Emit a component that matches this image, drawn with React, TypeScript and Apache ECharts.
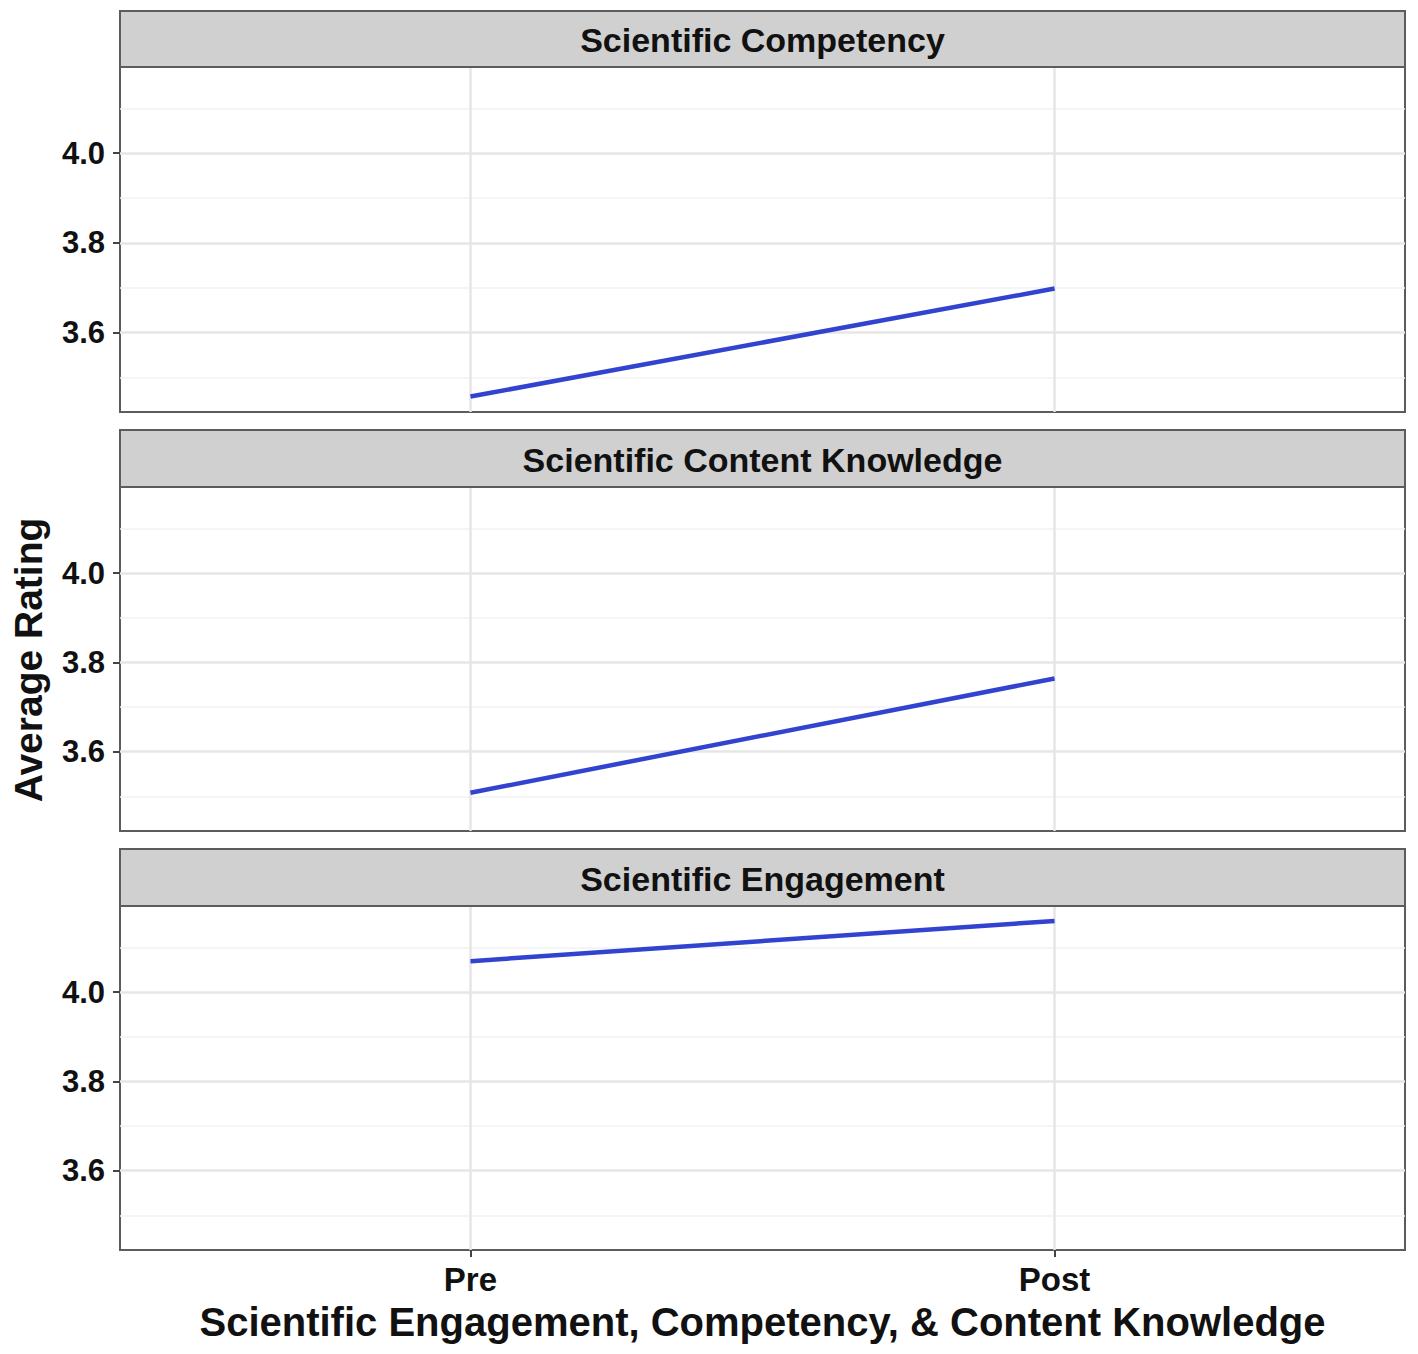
import React, { useEffect, useRef } from "react";
import * as echarts from "echarts";

const panels = ["Scientific Competency", "Scientific Content Knowledge", "Scientific Engagement"];
const timepoints = ["Pre", "Post"];
const competency = [3.457, 3.698];
const contentKnowledge = [3.508, 3.764];
const engagement = [4.069, 4.159];
const seriesValues = [competency, contentKnowledge, engagement];
const yTicks = [3.6, 3.8, 4.0];
const yMinorTicks = [3.5, 3.7, 3.9, 4.1];
const xPositions = [1, 2];
const xTitle = "Scientific Engagement, Competency, & Content Knowledge";
const yTitle = "Average Rating";

const Y_MIN = 3.4225;
const Y_MAX = 4.1925;
const FONT = "'Liberation Sans', Arial, sans-serif";

export default function App() {
  const ref = useRef<HTMLDivElement>(null);
  useEffect(() => {
    document.body.style.margin = "0";
    const chart = echarts.init(ref.current!, null, { renderer: "svg" });
    const left = 120;
    const width = 1285;
    const plotTops = [67, 487, 906];
    const plotH = [345, 344, 344];
    const stripTops = [11, 430, 849];
    const grids = plotTops.map((t, i) => ({
      left,
      top: t,
      width,
      height: plotH[i],
      show: true,
      borderColor: "#5c5c5c",
      borderWidth: 2,
      backgroundColor: "#ffffff",
      containLabel: false,
    }));
    const xAxes = panels.map((_, i) => ({
      type: "value",
      gridIndex: i,
      min: 0.4,
      max: 2.6,
      splitLine: { show: false },
      axisLine: { show: false },
      axisTick: {
        show: i === 2,
        customValues: xPositions,
        length: 7,
        lineStyle: { color: "#444", width: 2 },
      },
      axisLabel: {
        show: i === 2,
        customValues: xPositions,
        formatter: (v: number) => timepoints[Math.round(v) - 1] ?? "",
        fontFamily: FONT,
        fontWeight: "bold",
        fontSize: 33,
        color: "#111",
        margin: 13,
      },
    }));
    const yAxes = panels.map((_, i) => ({
      type: "value",
      gridIndex: i,
      min: Y_MIN,
      max: Y_MAX,
      splitLine: { show: false },
      axisLine: { show: false },
      axisTick: {
        show: true,
        customValues: yTicks,
        length: 7,
        lineStyle: { color: "#444", width: 2 },
      },
      axisLabel: {
        show: true,
        customValues: yTicks,
        formatter: (v: number) => v.toFixed(1),
        fontFamily: FONT,
        fontWeight: "bold",
        fontSize: 31,
        color: "#111",
        margin: 15,
      },
    }));
    const gridSeries = panels.map((_, i) => ({
      type: "line",
      xAxisIndex: i,
      yAxisIndex: i,
      data: [],
      z: 1,
      silent: true,
      markLine: {
        silent: true,
        symbol: "none",
        label: { show: false },
        animation: false,
        data: [
          ...yMinorTicks.map((v) => ({ yAxis: v, lineStyle: { color: "#f2f2f2", width: 1.5, type: "solid" } })),
          ...yTicks.map((v) => ({ yAxis: v, lineStyle: { color: "#e6e6e6", width: 2.5, type: "solid" } })),
          ...xPositions.map((v) => ({ xAxis: v, lineStyle: { color: "#e6e6e6", width: 2.5, type: "solid" } })),
        ],
      },
    }));
    const lineSeries = panels.map((name, i) => ({
      type: "line",
      name,
      xAxisIndex: i,
      yAxisIndex: i,
      z: 5,
      data: seriesValues[i].map((v, j) => [xPositions[j], v]),
      showSymbol: false,
      symbol: "none",
      lineStyle: { color: "#3243cf", width: 4.5 },
    }));
    const graphics: any[] = [];
    panels.forEach((name, i) => {
      graphics.push({
        type: "rect",
        shape: { x: left, y: stripTops[i], width, height: plotTops[i] - stripTops[i] },
        style: { fill: "#d0d0d0", stroke: "#5c5c5c", lineWidth: 2 },
        z: 10,
      });
      graphics.push({
        type: "text",
        x: left + width / 2,
        y: (stripTops[i] + plotTops[i]) / 2 + 1,
        style: {
          text: name,
          fontFamily: FONT,
          fontWeight: "bold",
          fontSize: 34,
          fill: "#111",
          align: "center",
          verticalAlign: "middle",
        },
        z: 11,
      });
    });
    graphics.push({
      type: "text",
      x: 28,
      y: 660,
      rotation: Math.PI / 2,
      style: {
        text: yTitle,
        fontFamily: FONT,
        fontWeight: "bold",
        fontSize: 39,
        fill: "#111",
        align: "center",
        verticalAlign: "middle",
      },
    });
    graphics.push({
      type: "text",
      x: left + width / 2,
      y: 1322,
      style: {
        text: xTitle,
        fontFamily: FONT,
        fontWeight: "bold",
        fontSize: 40,
        fill: "#111",
        align: "center",
        verticalAlign: "middle",
      },
    });
    chart.setOption({
      animation: false,
      backgroundColor: "#ffffff",
      grid: grids,
      xAxis: xAxes,
      yAxis: yAxes,
      series: [...gridSeries, ...lineSeries],
      graphic: graphics,
    });
    return () => chart.dispose();
  }, []);
  return <div ref={ref} style={{ width: 1418, height: 1354 }} />;
}
